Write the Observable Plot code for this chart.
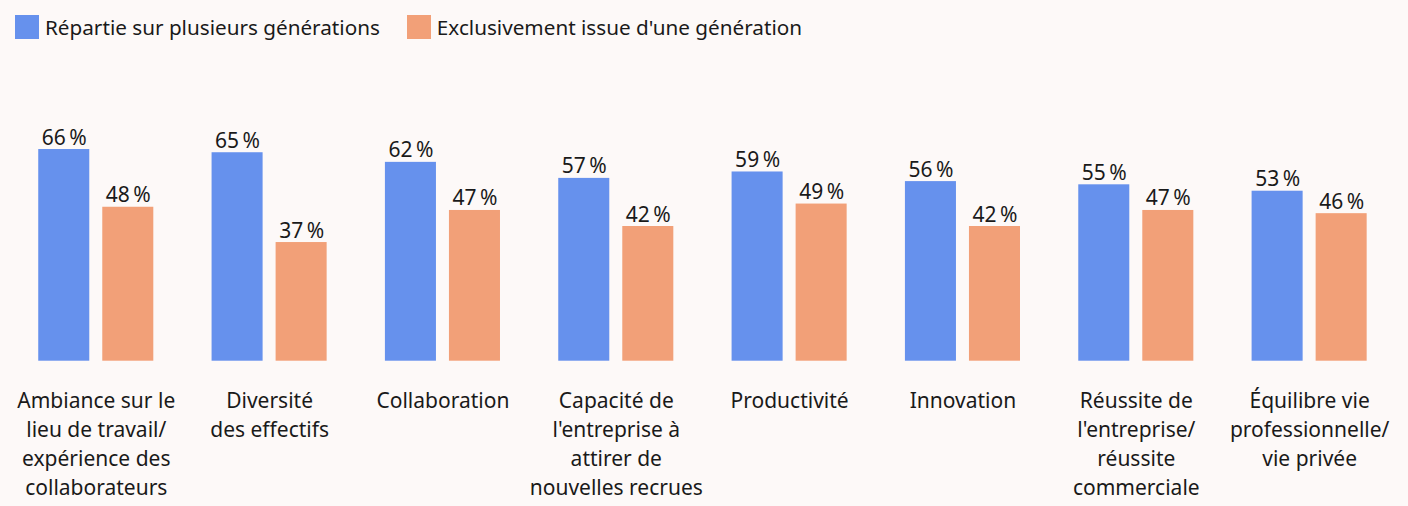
<!DOCTYPE html>
<html>
<head>
<meta charset="utf-8">
<script src="https://cdn.jsdelivr.net/npm/d3@7"></script>
<script src="https://cdn.jsdelivr.net/npm/@observablehq/plot@0.6"></script>
<style>
  html, body { margin: 0; padding: 0; background: #fdf9f8; }
  body { width: 1408px; height: 506px; overflow: hidden; font-family: "Noto Sans", sans-serif; color: #1a1a1a; font-variant-ligatures: none; }
  #legend { height: 52px; box-sizing: border-box; padding: 15px 0 0 15px; display: flex; align-items: flex-start; font-size: 20.7px; }
  .item { display: flex; align-items: center; margin-right: 27px; height: 24px; }
  .sw { width: 24px; height: 24px; margin-right: 6px; flex: none; }
  svg text { font-variant-ligatures: none; }
</style>
</head>
<body>
<div id="legend"></div>
<div id="chart"></div>
<script>
const categories = [
  "Ambiance sur le lieu de travail/expérience des collaborateurs",
  "Diversité des effectifs",
  "Collaboration",
  "Capacité de l'entreprise à attirer de nouvelles recrues",
  "Productivité",
  "Innovation",
  "Réussite de l'entreprise/réussite commerciale",
  "Équilibre vie professionnelle/vie privée"
];
const tickLabels = [
  "Ambiance sur le\nlieu de travail/\nexpérience des\ncollaborateurs",
  "Diversité\ndes effectifs",
  "Collaboration",
  "Capacité de\nl'entreprise à\nattirer de\nnouvelles recrues",
  "Productivité",
  "Innovation",
  "Réussite de\nl'entreprise/\nréussite\ncommerciale",
  "Équilibre vie\nprofessionnelle/\nvie privée"
];
const series = ["Répartie sur plusieurs générations", "Exclusivement issue d'une génération"];
const multiGeneration = [66, 65, 62, 57, 59, 56, 55, 53];
const singleGeneration = [48, 37, 47, 42, 49, 42, 47, 46];
const colors = ["#6691ed", "#f2a078"];

const data = [];
categories.forEach((c, i) => {
  data.push({category: c, serie: series[0], value: multiGeneration[i]});
  data.push({category: c, serie: series[1], value: singleGeneration[i]});
});

// legend
const legend = document.getElementById("legend");
series.forEach((s, i) => {
  const it = document.createElement("div");
  it.className = "item";
  const sw = document.createElement("div");
  sw.className = "sw";
  sw.style.background = colors[i];
  const tx = document.createElement("span");
  tx.textContent = s;
  it.appendChild(sw); it.appendChild(tx);
  legend.appendChild(it);
});

const chart = Plot.plot({
  width: 1408,
  height: 454,
  marginLeft: 9.1,
  marginRight: 12.2,
  marginTop: 84.2,
  marginBottom: 145.3,
  style: {background: "#fdf9f8", fontFamily: "'Noto Sans', sans-serif", color: "#1a1a1a", overflow: "visible"},
  fx: {domain: categories, padding: 0, round: false, label: null},
  x: {domain: series, paddingInner: 0.203, paddingOuter: 0.455, round: false, axis: null},
  y: {domain: [0, 70], axis: null},
  color: {domain: series, range: colors},
  marks: [
    Plot.barY(data, {fx: "category", x: "serie", y: "value", fill: "serie"}),
    Plot.text(data, {fx: "category", x: "serie", y: "value", text: d => `${d.value}\u202f%`, lineAnchor: "bottom", dy: -5, fontSize: 21, fill: "#1a1a1a"}),
    Plot.axisFx({anchor: "bottom", tickSize: 0, tickPadding: 26, fontSize: 21, lineHeight: 29 / 21, label: null,
      tickFormat: d => tickLabels[categories.indexOf(d)], fill: "#1a1a1a"})
  ]
});
document.getElementById("chart").appendChild(chart);
</script>
</body>
</html>
